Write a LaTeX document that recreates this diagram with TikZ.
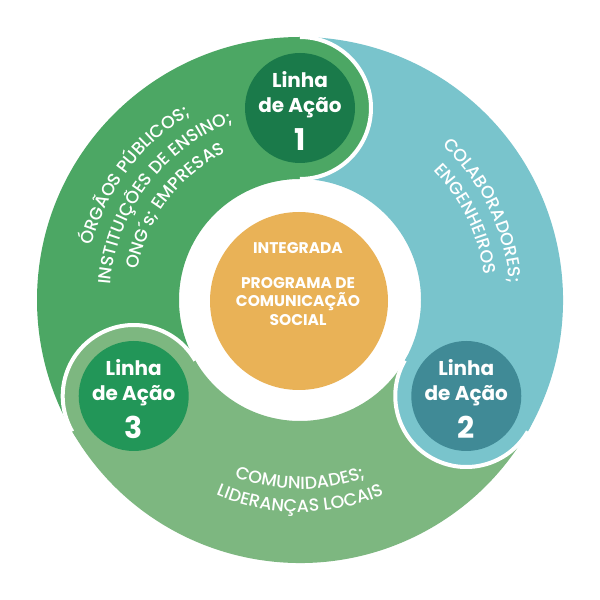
\documentclass[tikz,border=0pt]{standalone}
\usepackage{fontspec}
\setmainfont{Poppins}
\newfontfamily\curvefam{Poppins Medium}
\usetikzlibrary{decorations.text}
\definecolor{gband}{HTML}{4CA764}
\definecolor{gdark}{HTML}{1A7A4A}
\definecolor{tband}{HTML}{79C4CC}
\definecolor{tdark}{HTML}{408A96}
\definecolor{lband}{HTML}{7DB780}
\definecolor{ldark}{HTML}{229658}
\definecolor{corecol}{HTML}{E9B257}
\newcommand\curvefont{\curvefam\fontsize{17.5}{17.5}\selectfont}
\begin{document}
\begin{tikzpicture}[x=1pt,y=1pt,
  disc/.style={circle,inner sep=0pt,minimum size=110pt},
  headtext/.style={text=white,align=center,font=\fontsize{20}{25}\selectfont\bfseries},
  coretext/.style={text=white,align=center,font=\fontsize{15.5}{18.5}\selectfont\bfseries},
  capline/.style={white,line width=4pt},
  curved/.style={decorate,decoration={text along path,text align=center,text color=white,text={|\curvefont|#1}}}
]
\fill[white] (0,0) rectangle (600,600);
\useasboundingbox (0,0) rectangle (600,600);
\coordinate (O) at (300,300);
\coordinate (h1) at (300,492);
\coordinate (h2) at (466.28,204);
\coordinate (h3) at (133.72,204);

% bands
\fill[gband] ([shift={(90:263pt)}]O) arc[start angle=90,end angle=210,radius=263pt] -- ([shift={(210:121pt)}]O) arc[start angle=210,end angle=90,radius=121pt] -- cycle;
\fill[tband] ([shift={(-30:263pt)}]O) arc[start angle=-30,end angle=90,radius=263pt] -- ([shift={(90:121pt)}]O) arc[start angle=90,end angle=-30,radius=121pt] -- cycle;
\fill[lband] ([shift={(210:263pt)}]O) arc[start angle=210,end angle=330,radius=263pt] -- ([shift={(330:121pt)}]O) arc[start angle=330,end angle=210,radius=121pt] -- cycle;

% heads
\fill[gband] (h1) circle[radius=71pt];
\draw[capline] ([shift={(90:71pt)}]h1) arc[start angle=90,end angle=-90,radius=71pt];
\fill[tband] (h2) circle[radius=71pt];
\draw[capline] ([shift={(-30:71pt)}]h2) arc[start angle=-30,end angle=-210,radius=71pt];
\fill[lband] (h3) circle[radius=71pt];
\draw[capline] ([shift={(210:71pt)}]h3) arc[start angle=210,end angle=30,radius=71pt];

\node[disc,fill=gdark] (d1) at (h1) {};
\node[disc,fill=tdark] (d2) at (h2) {};
\node[disc,fill=ldark] (d3) at (h3) {};
\node[headtext] (t1) at ([yshift=-3pt]d1.center) {Linha\\de Ação\\[9pt]{\fontsize{30}{30}\selectfont 1}};
\node[headtext] (t2) at ([yshift=-3pt]d2.center) {Linha\\de Ação\\[9pt]{\fontsize{30}{30}\selectfont 2}};
\node[headtext] (t3) at ([yshift=-3pt]d3.center) {Linha\\de Ação\\[9pt]{\fontsize{30}{30}\selectfont 3}};

% core
\node[circle,fill=corecol,inner sep=0pt,minimum size=178pt] (core) at (299,299) {};
\node[coretext] (coretxt) at (298,316) {INTEGRADA\\[16pt]PROGRAMA DE\\COMUNICAÇÃO\\SOCIAL};

% curved labels
\path[curved={ÓRGÃOS PÚBLICOS;}] ([shift={(215:215pt)}]O) arc[start angle=215,end angle=71,radius=215pt];
\path[curved={INSTITUIÇÕES DE ENSINO;}] ([shift={(215:190pt)}]O) arc[start angle=215,end angle=71,radius=190pt];
\path[curved={ONG´s; EMPRESAS}] ([shift={(215:165pt)}]O) arc[start angle=215,end angle=71,radius=165pt];
\path[curved={COLABORADORES;}] ([shift={(86:210pt)}]O) arc[start angle=86,end angle=-34,radius=210pt];
\path[curved={ENGENHEIROS}] ([shift={(86:186pt)}]O) arc[start angle=86,end angle=-34,radius=186pt];
\path[curved={COMUNIDADES;}] ([shift={(210:189pt)}]O) arc[start angle=210,end angle=330,radius=189pt];
\path[curved={LIDERANÇAS LOCAIS}] ([shift={(210:212pt)}]O) arc[start angle=210,end angle=330,radius=212pt];
\end{tikzpicture}
\end{document}
